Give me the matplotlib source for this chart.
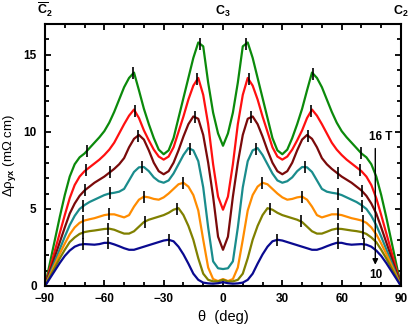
import numpy as np
import matplotlib
matplotlib.use("Agg")
import matplotlib.pyplot as plt
from matplotlib.ticker import MultipleLocator

plt.rcParams['font.family'] = ['Liberation Sans', 'DejaVu Sans']
plt.rcParams['font.weight'] = 'bold'
plt.rcParams['mathtext.fontset'] = 'custom'
plt.rcParams['mathtext.rm'] = 'Liberation Sans:bold'
plt.rcParams['mathtext.bf'] = 'Liberation Sans:bold'
plt.rcParams['mathtext.it'] = 'Liberation Sans:bold'

# sampling angles (deg), every 2.5 deg from -90 to 90
theta = np.arange(-90, 90.01, 2.5)

fields = ['16 T', '15 T', '14 T', '13 T', '12 T', '11 T', '10 T']
colors = ['#0b8a0b', '#ff1010', '#7a0a0a', '#1a8c8c', '#ff8c00', '#808000', '#0a0a90']

rho_16 = [0, 1.5, 3.0, 4.5, 5.9, 7.1, 7.9, 8.35, 8.6, 8.95, 9.3, 9.65, 10.05, 10.6, 11.3, 12.1, 12.9,
          13.5, 13.85, 12.7, 11.5, 10.5, 9.6, 8.85, 8.55, 8.8, 9.6, 10.9, 12.2, 13.5, 14.8, 15.8, 15.55,
          13.2, 11.25, 9.9, 9.1,
          9.9, 11.25, 13.2, 15.55, 15.8, 14.8, 13.5, 12.2, 10.9, 9.6, 8.8, 8.55, 8.85, 9.6, 10.5, 11.5,
          12.7, 13.85, 13.5, 12.9, 12.1, 11.3, 10.6, 10.05, 9.65, 9.3, 8.95, 8.6, 8.35, 7.9, 7.1, 5.9,
          4.5, 3.0, 1.5, 0]
rho_15 = [0, 1.15, 2.3, 3.45, 4.6, 5.7, 6.55, 7.1, 7.45, 7.7, 7.95, 8.2, 8.5, 8.85, 9.3, 9.9, 10.5,
          11.05, 11.45, 10.9, 10.1, 9.45, 8.85, 8.4, 8.2, 8.4, 9.0, 10.0, 11.0, 12.1, 13.0, 13.5, 12.4,
          10.5, 7.9, 5.8, 4.95,
          5.8, 7.9, 10.5, 12.4, 13.5, 13.0, 12.1, 11.0, 10.0, 9.0, 8.4, 8.2, 8.4, 8.85, 9.45, 10.1,
          10.9, 11.45, 11.05, 10.5, 9.9, 9.3, 8.85, 8.5, 8.2, 7.95, 7.7, 7.45, 7.1, 6.55, 5.7, 4.6,
          3.45, 2.3, 1.15, 0]
rho_14 = [0, 0.95, 1.9, 2.85, 3.8, 4.7, 5.35, 5.85, 6.2, 6.45, 6.7, 6.9, 7.1, 7.35, 7.6, 7.9, 8.3,
          9.0, 9.55, 9.8, 9.5, 8.8, 8.0, 7.45, 7.25, 7.45, 8.0, 8.8, 9.7, 10.5, 11.0, 10.85, 9.8,
          8.0, 5.8, 3.2, 2.35,
          3.2, 5.8, 8.0, 9.8, 10.85, 11.0, 10.5, 9.7, 8.8, 8.0, 7.45, 7.25, 7.45, 8.0, 8.8, 9.5,
          9.8, 9.55, 9.0, 8.3, 7.9, 7.6, 7.35, 7.1, 6.9, 6.7, 6.45, 6.2, 5.85, 5.35, 4.7, 3.8,
          2.85, 1.9, 0.95, 0]
rho_13 = [0, 0.8, 1.6, 2.4, 3.2, 3.95, 4.55, 5.0, 5.25, 5.45, 5.6, 5.75, 5.9, 6.0, 6.05, 6.12, 6.3,
          6.85, 7.4, 7.7, 7.72, 7.45, 7.05, 6.8, 6.7, 6.85, 7.3, 7.9, 8.5, 8.95, 8.8, 8.1, 6.4,
          3.8, 1.6, 1.15, 1.1,
          1.15, 1.6, 3.8, 6.4, 8.1, 8.8, 8.95, 8.5, 7.9, 7.3, 6.85, 6.7, 6.8, 7.05, 7.45, 7.72,
          7.7, 7.4, 6.85, 6.3, 6.12, 6.05, 6.0, 5.9, 5.75, 5.6, 5.45, 5.25, 5.0, 4.55, 3.95, 3.2,
          2.4, 1.6, 0.8, 0]
rho_12 = [0, 0.7, 1.4, 2.1, 2.75, 3.35, 3.8, 4.1, 4.25, 4.33, 4.4, 4.5, 4.6, 4.65, 4.65, 4.55, 4.45,
          4.6, 5.15, 5.6, 5.8, 5.75, 5.65, 5.6, 5.75, 6.0, 6.3, 6.6, 6.7, 6.45, 5.9, 4.9, 3.0,
          1.2, 0.45, 0.32, 0.45,
          0.32, 0.45, 1.2, 3.0, 4.9, 5.9, 6.45, 6.7, 6.6, 6.3, 6.0, 5.75, 5.6, 5.65, 5.75, 5.8,
          5.6, 5.15, 4.6, 4.45, 4.55, 4.65, 4.65, 4.6, 4.5, 4.4, 4.33, 4.25, 4.1, 3.8, 3.35, 2.75,
          2.1, 1.4, 0.7, 0]
rho_11 = [0, 0.6, 1.2, 1.8, 2.35, 2.85, 3.15, 3.38, 3.5, 3.56, 3.6, 3.65, 3.7, 3.72, 3.65, 3.52, 3.4,
          3.4, 3.55, 3.85, 4.15, 4.3, 4.4, 4.5, 4.6, 4.75, 4.95, 5.05, 4.6, 3.9, 3.0, 1.8, 0.8,
          0.4, 0.3, 0.3, 0.4,
          0.3, 0.3, 0.4, 0.8, 1.8, 3.0, 3.9, 4.6, 5.05, 4.95, 4.75, 4.6, 4.5, 4.4, 4.3, 4.15,
          3.85, 3.55, 3.4, 3.4, 3.52, 3.65, 3.72, 3.7, 3.65, 3.6, 3.56, 3.5, 3.38, 3.15, 2.85, 2.35,
          1.8, 1.2, 0.6, 0]
rho_10 = [0, 0.5, 1.0, 1.5, 1.95, 2.3, 2.55, 2.68, 2.72, 2.7, 2.68, 2.72, 2.8, 2.8, 2.7, 2.58, 2.45,
          2.35, 2.35, 2.45, 2.55, 2.65, 2.75, 2.85, 2.95, 3.0, 2.9, 2.55, 2.05, 1.45, 0.8, 0.4, 0.22,
          0.17, 0.15, 0.18, 0.25,
          0.18, 0.15, 0.17, 0.22, 0.4, 0.8, 1.45, 2.05, 2.55, 2.9, 3.0, 2.95, 2.85, 2.75, 2.65, 2.55,
          2.45, 2.35, 2.35, 2.45, 2.58, 2.7, 2.8, 2.8, 2.72, 2.68, 2.7, 2.72, 2.68, 2.55, 2.3, 1.95,
          1.5, 1.0, 0.5, 0]

marks_16 = [-69, -45.3, -11.5, 11.6, 45.7, 70]
marks_15 = [-69.3, -44.5, -13, 13, 44.5, 69.5]
marks_14 = [-69.8, -57.1, -43, -14.1, 14.1, 43, 58, 70.4]
marks_13 = [-70.6, -57.1, -41.1, -16.7, 16.7, 41.5, 58, 70.5]
marks_12 = [-70.6, -57.5, -40, -20, 19.9, 40.1, 58, 71]
marks_11 = [-70.6, -58, -39.5, -23.4, 23.8, 39.4, 58, 71]
marks_10 = [-71, -58, -27.1, 27.5, 58, 71.5]

series = [rho_16, rho_15, rho_14, rho_13, rho_12, rho_11, rho_10]
marks = [marks_16, marks_15, marks_14, marks_13, marks_12, marks_11, marks_10]

top_ticks = [-90, 0, 90]
top_labels = [r'$\overline{\mathrm{C}}_\mathrm{2}$', r'$\mathrm{C}_\mathrm{3}$', r'$\mathrm{C}_\mathrm{2}$']

fig = plt.figure(figsize=(4.09, 3.32), dpi=100)
ax = fig.add_axes([45 / 409, 46 / 332, 356 / 409, 262 / 332])

for ys, c, mk in zip(series, colors, marks):
    ys = np.array(ys, dtype=float)
    assert len(ys) == len(theta)
    ax.plot(theta, ys, color=c, lw=1.6, solid_joinstyle='round', zorder=2)
    mx = np.array(mk)
    my = np.interp(mx, theta, ys)
    ax.plot(mx, my, ls='none', marker='|', ms=8, mew=1.2, color='black', zorder=3)

ax.set_xlim(-90, 90)
ax.set_ylim(0, 17)
ax.xaxis.set_major_locator(MultipleLocator(30))
ax.xaxis.set_minor_locator(MultipleLocator(10))
ax.yaxis.set_major_locator(MultipleLocator(5))
ax.yaxis.set_minor_locator(MultipleLocator(1))
ax.tick_params(which='both', direction='in', top=True, right=True, width=1.3, labelsize=8.5)
ax.tick_params(axis='x', pad=5)
ax.tick_params(axis='y', pad=6)
ax.tick_params(which='major', length=4.5)
ax.tick_params(which='minor', length=3)
for s in ax.spines.values():
    s.set_linewidth(1.5)

for t, lab in zip(top_ticks, top_labels):
    ax.text(t, 1.02, lab, transform=ax.get_xaxis_transform(), ha='center', va='bottom', fontsize=9)

ax.set_xlabel('θ  (deg)', fontsize=10.5, labelpad=4)
ax.set_ylabel('Δρ$_\\mathrm{yx}$ (mΩ cm)', fontsize=9.5, labelpad=4)

ax.annotate('', xy=(77, 1.2), xytext=(77, 9.1),
            arrowprops=dict(arrowstyle='-|>', color='black', lw=1.0, mutation_scale=8))
ax.text(79.5, 9.3, '16 T', ha='center', va='bottom', fontsize=8.5)
ax.text(77.5, 0.3, '10', ha='center', va='bottom', fontsize=8.5)

fig.savefig('out.png', dpi=100)
